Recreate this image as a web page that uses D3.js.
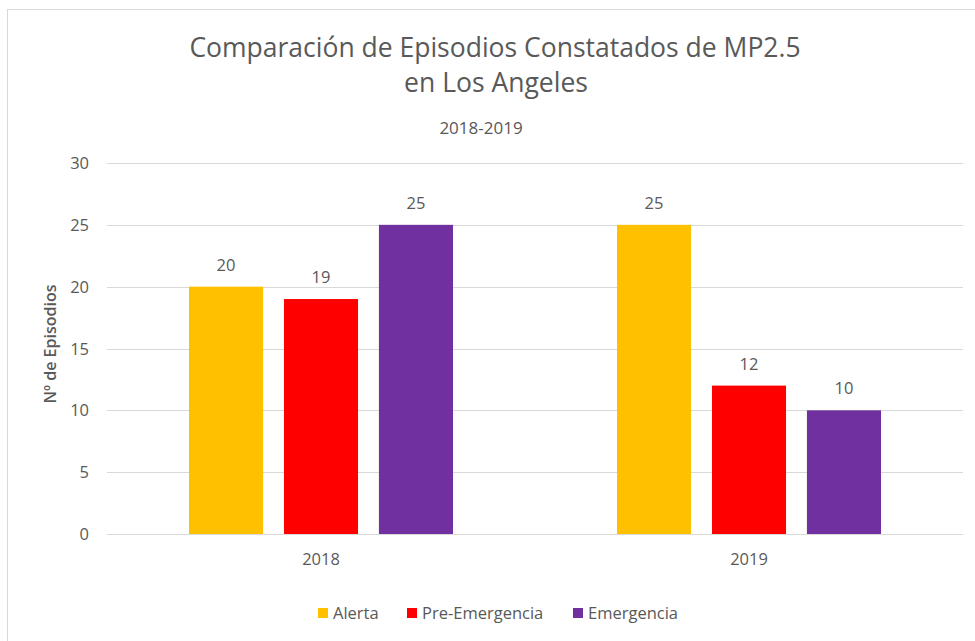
<!DOCTYPE html>
<html>
<head>
<meta charset="utf-8">
<script src="https://cdn.jsdelivr.net/npm/d3@7"></script>
<style>
  body { margin: 0; background: #fff; }
  text { font-family: "Open Sans", "Noto Sans", sans-serif; fill: #595959; }
</style>
</head>
<body>
<script>
(function () {
  "use strict";
  var years = ["2018", "2019"],
    series = ["Alerta", "Pre-Emergencia", "Emergencia"],
    colors = ["#ffc000", "#ff0000", "#7030a0"],
    alerta = [20, 25],
    preEmergencia = [19, 12],
    emergencia = [25, 10],
    yTicks = [0, 5, 10, 15, 20, 25, 30];

  var values = [alerta, preEmergencia, emergencia],
    width = 975, height = 641,
    left = 107, right = 963, top = 163, bottom = 534,
    fs = "16.5px";

  var svg = d3.select("body").append("svg")
    .attr("width", width)
    .attr("height", height);

  // chart frame
  svg.append("rect")
    .attr("x", 7.5).attr("y", 9.5)
    .attr("width", width).attr("height", height)
    .attr("fill", "#fff")
    .attr("stroke", "#d9d9d9");

  var x0 = d3.scaleBand().domain(years).range([left, right]),
    x1 = d3.scaleBand().domain(series).range([-132, 132]).paddingInner(0.22),
    y = d3.scaleLinear().domain([0, 30]).range([bottom, top]);

  // gridlines
  svg.selectAll(".grid")
    .data(yTicks)
    .enter().append("line")
    .attr("x1", left).attr("x2", right)
    .attr("y1", function (d) { return Math.round(y(d)) + 0.5; })
    .attr("y2", function (d) { return Math.round(y(d)) + 0.5; })
    .attr("stroke", "#d9d9d9")
    .attr("stroke-width", 1);

  // y tick labels
  svg.selectAll(".ytick")
    .data(yTicks)
    .enter().append("text")
    .attr("x", 89)
    .attr("y", function (d) { return y(d) + 6; })
    .attr("text-anchor", "end")
    .style("font-size", fs)
    .text(function (d) { return d; });

  // bars
  var groups = svg.selectAll(".year")
    .data(years)
    .enter().append("g")
    .attr("transform", function (d) { return "translate(" + (x0(d) + x0.bandwidth() / 2) + ",0)"; });

  groups.each(function (yr, i) {
    var g = d3.select(this);
    series.forEach(function (s, k) {
      var v = values[k][i];
      g.append("rect")
        .attr("x", x1(s))
        .attr("y", y(v))
        .attr("width", x1.bandwidth())
        .attr("height", y(0) - y(v))
        .attr("fill", colors[k]);
      g.append("text")
        .attr("x", x1(s) + x1.bandwidth() / 2)
        .attr("y", y(v) - 16)
        .attr("text-anchor", "middle")
        .style("font-size", fs)
        .text(v);
    });
  });

  // x labels
  svg.selectAll(".xlab")
    .data(years)
    .enter().append("text")
    .attr("x", function (d) { return x0(d) + x0.bandwidth() / 2; })
    .attr("y", 565)
    .attr("text-anchor", "middle")
    .style("font-size", fs)
    .text(function (d) { return d; });

  // titles
  svg.append("text")
    .attr("x", 495).attr("y", 57)
    .attr("text-anchor", "middle")
    .style("font-size", "26.5px")
    .text("Comparación de Episodios Constatados de MP2.5");
  svg.append("text")
    .attr("x", 496).attr("y", 92)
    .attr("text-anchor", "middle")
    .style("font-size", "26.5px")
    .text("en Los Angeles");
  svg.append("text")
    .attr("x", 481).attr("y", 134)
    .attr("text-anchor", "middle")
    .style("font-size", "17px")
    .text("2018-2019");

  // y axis title
  svg.append("text")
    .attr("transform", "translate(56,344) rotate(-90)")
    .attr("text-anchor", "middle")
    .style("font-size", "16px")
    .style("font-weight", "600")
    .text("Nº de Episodios");

  // legend
  var legX = [318, 407, 573];
  series.forEach(function (s, k) {
    svg.append("rect")
      .attr("x", legX[k]).attr("y", 608)
      .attr("width", 10).attr("height", 10)
      .attr("fill", colors[k]);
    svg.append("text")
      .attr("x", legX[k] + 15).attr("y", 619)
      .style("font-size", fs)
      .text(s);
  });
})();
</script>
</body>
</html>
